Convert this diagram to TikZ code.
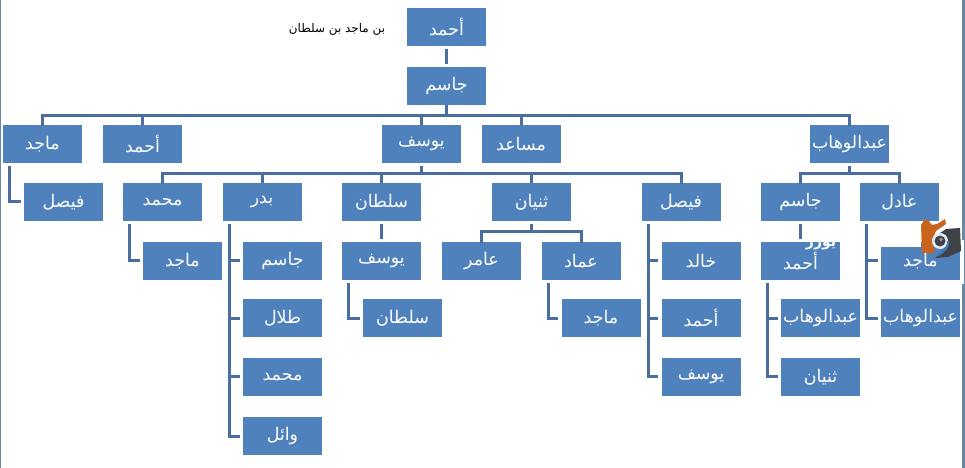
\documentclass[tikz,border=0pt]{standalone}
\usepackage{fontspec}
\TeXXeTstate=1
\newfontfamily\arabicfont[Script=Arabic]{DejaVu Sans}
\definecolor{boxblue}{HTML}{4F81BD}
\definecolor{linkblue}{HTML}{4A6F9F}
\definecolor{framegrey}{HTML}{6A86A6}
\definecolor{wmorange}{HTML}{C8641E}
\definecolor{wmdark}{HTML}{3F4247}
\definecolor{wmblue}{HTML}{3F78B4}
\tikzset{
  x=1bp,y=-1bp,
  person/.style={fill=boxblue,text=white,inner sep=0pt,minimum width=79bp,minimum height=38bp,font=\arabicfont\fontsize{17.5}{18}\selectfont},
  link/.style={draw=linkblue,line width=3bp,line join=miter},
}
\newcommand{\ar}[1]{\beginR #1\endR}
\begin{document}
\begin{tikzpicture}
\useasboundingbox (0,0) rectangle (965,468);
\fill[white] (0,0) rectangle (965,468);
\fill[framegrey] (0,0) rectangle (1.2,468);
\fill[framegrey] (961.5,0) rectangle (965,468);
\fill[white] (960,240) rectangle (963.5,284);
% level 0, 1
\node[person] (a)  at (446.5,27) {\ar{أحمد}};
\node[person] (j)  at (446.5,86) {\ar{جاسم}};
% level 2
\node[person] (m1) at (42.5,144) {\ar{ماجد}};
\node[person] (h1) at (142.5,144) {\ar{أحمد}};
\node[person] (y1) at (421.5,144) {\ar{يوسف}};
\node[person] (s1) at (521,144) {\ar{مساعد}};
\node[person] (w1) at (849.5,144) {\ar{عبدالوهاب}};
% level 3
\node[person] (f1) at (63.5,202) {\ar{فيصل}};
\node[person] (mh) at (162.5,202) {\ar{محمد}};
\node[person] (b)  at (262,202) {\ar{بدر}};
\node[person] (sl) at (381.5,202) {\ar{سلطان}};
\node[person] (t1) at (531.5,202) {\ar{ثنيان}};
\node[person] (f2) at (681,202) {\ar{فيصل}};
\node[person] (j2) at (800.5,202) {\ar{جاسم}};
\node[person] (ad) at (899.5,202) {\ar{عادل}};
% level 4
\node[person] (m2) at (182.5,261) {\ar{ماجد}};
\node[person] (j3) at (282.5,261) {\ar{جاسم}};
\node[person] (y2) at (381.5,261) {\ar{يوسف}};
\node[person] (am) at (481.5,261) {\ar{عامر}};
\node[person] (im) at (581,261) {\ar{عماد}};
\node[person] (kh) at (701,261) {\ar{خالد}};
\node[person] (h2) at (800.5,261) {\ar{أحمد}};
\node[person] (m3) at (920.5,261) {\ar{ماجد}};
% level 5
\node[person] (tl) at (282.5,318.5) {\ar{طلال}};
\node[person] (s2) at (402.5,318.5) {\ar{سلطان}};
\node[person] (m4) at (601,318.5) {\ar{ماجد}};
\node[person] (h3) at (701,318.5) {\ar{أحمد}};
\node[person] (w2) at (820.5,318.5) {\ar{عبدالوهاب}};
\node[person] (w3) at (920.5,318.5) {\ar{عبدالوهاب}};
% level 6, 7
\node[person] (mh2) at (282.5,377) {\ar{محمد}};
\node[person] (y3)  at (701,377) {\ar{يوسف}};
\node[person] (t2)  at (820.5,377) {\ar{ثنيان}};
\node[person] (wl)  at (282.5,436) {\ar{وائل}};
\node[text=black,inner sep=0pt,font=\arabicfont\fontsize{12}{13}\selectfont] (cap) at (337,29) {\ar{بن ماجد بن سلطان}};
% connectors
\draw[link] ([yshift=-3bp]a.south) -- ([yshift=3bp]j.north);
% jasim's children
\draw[link] (j.south) -- ++(0,10) coordinate (jb);
\draw[link] ([yshift=-1bp]m1.north) -- (m1.north |- jb) -- (w1.north |- jb) -- ([yshift=-1bp]w1.north);
\foreach \c in {h1,y1,s1}{\draw[link] (\c.north) -- (\c.north |- jb);}
% yusuf's children
\draw[link] ([yshift=-3bp]y1.south) -- ++(0,7) coordinate (yb);
\draw[link] ([yshift=-1bp]mh.north) -- (mh.north |- yb) -- (f2.north |- yb) -- ([yshift=-1bp]f2.north);
\foreach \c in {b,sl,t1}{\draw[link] (\c.north) -- (\c.north |- yb);}
% abdulwahab's children
\draw[link] ([yshift=-3bp]w1.south) -- ++(0,7) coordinate (wb);
\draw[link] ([yshift=-1bp]j2.north) -- (j2.north |- wb) -- (ad.north |- wb) -- ([yshift=-1bp]ad.north);
% thunayan's children
\draw[link] ([yshift=-3bp]t1.south) -- ++(0,7) coordinate (tb);
\draw[link] ([yshift=-1bp]am.north) -- (am.north |- tb) -- (im.north |- tb) -- ([yshift=-1bp]im.north);
% straight drops
\draw[link] ([yshift=-3bp]sl.south) -- ([yshift=3bp]y2.north);
\draw[link] ([yshift=-3bp]j2.south) -- ([yshift=3bp]h2.north);
% side-hanging children
\draw[link] ([xshift=-33bp,yshift=-3bp]m1.south) |- ([xshift=-3bp]f1.west);
\draw[link] ([xshift=-33bp,yshift=-3bp]mh.south) |- ([xshift=-3bp]m2.west);
\draw[link] ([xshift=-33bp,yshift=-3bp]y2.south) |- ([xshift=-3bp]s2.west);
\draw[link] ([xshift=-33bp,yshift=-3bp]im.south) |- ([xshift=-3bp]m4.west);
\draw[link] ([xshift=-33bp,yshift=-3bp]b.south) |- ([xshift=-3bp]wl.west);
\foreach \c in {j3,tl,mh2}{\draw[link] ([xshift=-14bp]\c.west) -- ([xshift=-3bp]\c.west);}
\draw[link] ([xshift=-33bp,yshift=-3bp]f2.south) |- ([xshift=-3bp]y3.west);
\foreach \c in {kh,h3}{\draw[link] ([xshift=-14bp]\c.west) -- ([xshift=-3bp]\c.west);}
\draw[link] ([xshift=-33bp,yshift=-3bp]h2.south) |- ([xshift=-3bp]t2.west);
\draw[link] ([xshift=-14bp]w2.west) -- ([xshift=-3bp]w2.west);
\draw[link] ([xshift=-33bp,yshift=-3bp]ad.south) |- ([xshift=-3bp]w3.west);
\draw[link] ([xshift=-14bp]m3.west) -- ([xshift=-3bp]m3.west);
% watermark
\fill[white] (867.5,225) rectangle (921,247);
\fill[white] (803,238) rectangle (838,242);
\node[text=white,inner sep=0pt,font=\arabicfont\bfseries\fontsize{14}{15}\selectfont] (wm) at (821,245) {\ar{يوزر}};
\fill[wmorange] (921,225) -- (924,220) -- (928,220) -- (932,225) -- (937,224) -- (945,219) -- (946,224) -- (936,231) -- (932,240) -- (935,253) -- (922,253) -- cycle;
\fill[wmdark] (940,233) -- (946,229) -- (960,228) -- (961,251) -- (948,257) -- (935,258) -- (948,245) -- cycle;
\fill[white!85!wmblue] (940,241) circle (8);
\fill[wmdark] (940,241) circle (5.5);
\fill[black!40] (941,239.5) circle (1.8);
\draw[wmblue,line width=2.2bp] (948.5,241) .. controls (948,248) and (944,252) .. (937,255.5);
\end{tikzpicture}
\end{document}
